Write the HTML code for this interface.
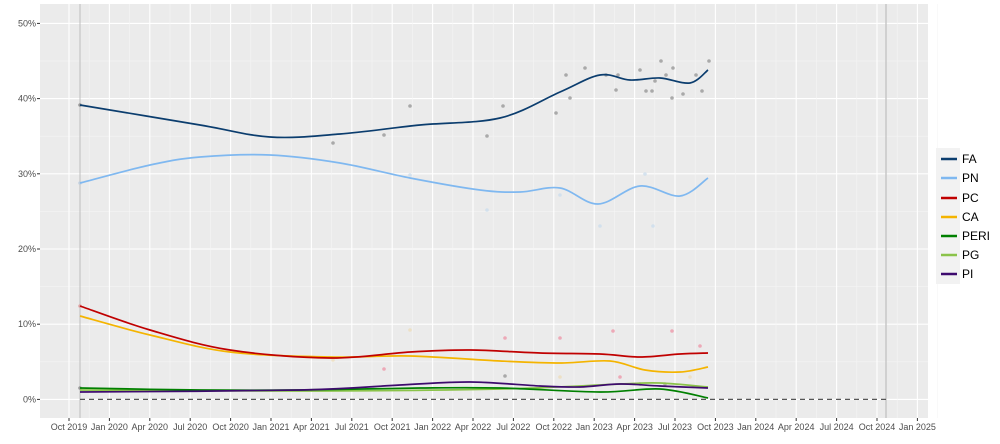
<!DOCTYPE html>
<html><head><meta charset="utf-8"><style>
body{margin:0;background:#fff;}
svg{display:block;font-family:"Liberation Sans",sans-serif;}
</style></head><body>
<svg id="s" width="1000" height="444" xmlns="http://www.w3.org/2000/svg">
<rect x="40" y="4" width="888" height="414" fill="#ebebeb"/>
<g id="grid"></g>
<line x1="80" y1="4" x2="80" y2="418" stroke="#bdbdbd" stroke-width="1"/>
<line x1="886" y1="4" x2="886" y2="418" stroke="#c8c8c8" stroke-width="1.5"/>
<line x1="80" y1="399.4" x2="886" y2="399.4" stroke="#555" stroke-width="1.2" stroke-dasharray="5,4"/>
<g id="pts"></g>
<g id="lines" fill="none" stroke-width="1.7"></g>
<g id="labels" font-size="9" fill="#4d4d4d"></g>
<rect x="936" y="148" width="24" height="136" fill="#f2f2f2"/>
<g font-size="12" fill="#000">
<line x1="941" y1="159" x2="957" y2="159" stroke="#0b3d6e" stroke-width="2.5"/><text x="962" y="163">FA</text>
<line x1="941" y1="178" x2="957" y2="178" stroke="#7fb8f0" stroke-width="2.5"/><text x="962" y="182">PN</text>
<line x1="941" y1="198" x2="957" y2="198" stroke="#c00000" stroke-width="2.5"/><text x="962" y="202">PC</text>
<line x1="941" y1="217" x2="957" y2="217" stroke="#f4b400" stroke-width="2.5"/><text x="962" y="221">CA</text>
<line x1="941" y1="236" x2="957" y2="236" stroke="#008000" stroke-width="2.5"/><text x="962" y="240">PERI</text>
<line x1="941" y1="255" x2="957" y2="255" stroke="#8bc34a" stroke-width="2.5"/><text x="962" y="259">PG</text>
<line x1="941" y1="274" x2="957" y2="274" stroke="#3d0a6e" stroke-width="2.5"/><text x="962" y="278">PI</text>
</g>
</svg>
<script>
var NS="http://www.w3.org/2000/svg";
function el(p,t,a,txt){var e=document.createElementNS(NS,t);for(var k in a)e.setAttribute(k,a[k]);if(txt)e.textContent=txt;document.getElementById(p).appendChild(e);return e;}
for(var i=0;i<=5;i++){var y=399.4-i*75.2;el("grid","line",{x1:40,x2:928,y1:y,y2:y,stroke:"#fff","stroke-width":1.1});
 if(i<5){el("grid","line",{x1:40,x2:928,y1:y-37.6,y2:y-37.6,stroke:"#f5f5f5","stroke-width":0.6});}
 el("labels","text",{x:36,y:y+3,"text-anchor":"end"},(i*10)+"%");
 el("grid","line",{x1:37,x2:40,y1:y,y2:y,stroke:"#333","stroke-width":1});}
var names=["Oct 2019","Jan 2020","Apr 2020","Jul 2020","Oct 2020","Jan 2021","Apr 2021","Jul 2021","Oct 2021","Jan 2022","Apr 2022","Jul 2022","Oct 2022","Jan 2023","Apr 2023","Jul 2023","Oct 2023","Jan 2024","Apr 2024","Jul 2024","Oct 2024","Jan 2025"];
for(var j=0;j<22;j++){var x=69+j*40.4;el("grid","line",{x1:x,x2:x,y1:4,y2:418,stroke:"#fff","stroke-width":1.1});
 el("grid","line",{x1:x+20.2,x2:x+20.2,y1:4,y2:418,stroke:"#f5f5f5","stroke-width":0.6});
 el("grid","line",{x1:x,x2:x,y1:418,y2:421,stroke:"#333","stroke-width":1});
 el("labels","text",{x:x,y:430,"text-anchor":"middle"},names[j]);}
function path(p){var d="M"+p[0][0]+","+p[0][1];for(var i=0;i<p.length-1;i++){var p0=p[i-1]||p[i],p1=p[i],p2=p[i+1],p3=p[i+2]||p2;
 d+=" C"+(p1[0]+(p2[0]-p0[0])/6)+","+(p1[1]+(p2[1]-p0[1])/6)+" "+(p2[0]-(p3[0]-p1[0])/6)+","+(p2[1]-(p3[1]-p1[1])/6)+" "+p2[0]+","+p2[1];}return d;}
var S=[
["#7fb8f0",[[80,183],[150,165],[200,157],[270,155],[340,163],[410,178],[480,190],[520,192],[560,188],[598,204],[640,186],[680,196],[708,178]]],
["#f4b400",[[80,316],[150,335],[230,352],[330,357],[410,356],[500,361],[560,363],[610,361],[645,370],[680,372],[708,367]]],
["#c00000",[[80,306],[150,330],[230,350],[330,358],[410,352],[470,350],[540,353],[600,354],[640,357],[680,354],[708,353]]],
["#8bc34a",[[80,390],[300,391],[500,389],[620,384],[660,383],[708,387]]],
["#008000",[[80,388],[200,390],[300,390],[420,388],[500,388],[600,392],[660,389],[708,398]]],
["#3d0a6e",[[80,392],[300,390],[400,385],[470,382],[540,386],[580,387],[620,384],[660,386],[708,388]]],
["#0b3d6e",[[80,105],[200,125],[270,137],[340,134],[420,125],[500,118],[560,92],[600,75],[630,80],[660,78],[690,83],[708,70]]]
];
var dots=[[80,105,"#888"],[80,183,"#bcd"],[80,306,"#d99"],[80,388,"#888"],[410,106,"#999"],[487,136,"#999"],[503,106,"#999"],[333,143,"#999"],[384,135,"#999"],[556,113,"#999"],[566,75,"#999"],[570,98,"#999"],[585,68,"#999"],[606,75,"#999"],[616,90,"#999"],[618,75,"#999"],[640,70,"#999"],[646,91,"#999"],[652,91,"#999"],[655,81,"#999"],[661,61,"#999"],[666,75,"#999"],[672,98,"#999"],[673,68,"#999"],[683,94,"#999"],[696,75,"#999"],[702,91,"#999"],[709,61,"#999"],[560,195,"#cde"],[600,226,"#cde"],[653,226,"#cde"],[487,210,"#cde"],[410,175,"#cde"],[645,174,"#cde"],[410,330,"#edb"],[505,338,"#e9a"],[560,338,"#e9a"],[613,331,"#e9a"],[672,331,"#e9a"],[700,346,"#e9a"],[384,369,"#e9a"],[333,360,"#edb"],[560,377,"#edb"],[620,377,"#e9a"],[690,377,"#edb"],[505,376,"#999"],[640,384,"#999"],[665,384,"#aa9"]];
dots.forEach(function(d){el("pts","circle",{cx:d[0],cy:d[1],r:1.8,fill:d[2],opacity:0.8});});
S.forEach(function(s){el("lines","path",{d:path(s[1]),stroke:s[0]});});
</script>
</body></html>
